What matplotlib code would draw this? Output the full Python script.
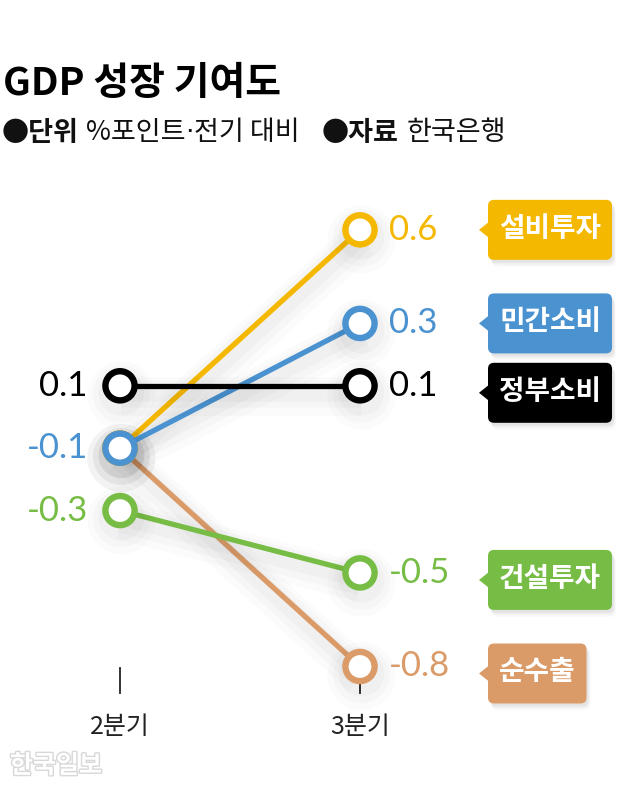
import matplotlib
matplotlib.use('Agg')
import matplotlib.pyplot as plt
import matplotlib.patheffects as pe
from matplotlib.patches import FancyBboxPatch, Polygon

# data
quarters = ['2분기', '3분기']
series = ['설비투자', '민간소비', '정부소비', '건설투자', '순수출']
q2 = [-0.1, -0.1, 0.1, -0.3, -0.1]
q3 = [0.6, 0.3, 0.1, -0.5, -0.8]
colors = ['#F5B800', '#4A92D0', '#000000', '#77BD45', '#DA9B68']
show_left = [False, True, True, True, False]
zorders = [3, 4, 6, 5, 2]
box_shift = [0, 0, 7, 7, 7]   # px, label box below the point

KR = ['Noto Sans CJK KR', 'DejaVu Sans']
NUM = ['Lato', 'DejaVu Sans']

W, H = 640, 790
fig = plt.figure(figsize=(W / 100, H / 100), dpi=100)
ax = fig.add_axes([0, 0, 1, 1])
ax.axis('off')
ax.set_xlim(-0.5, W / 240 - 0.5)
ax.set_ylim(-1.196, 1.337)

shadow = [pe.SimpleLineShadow(offset=(1, -5), shadow_color='k', alpha=0.025, linewidth=12),
          pe.SimpleLineShadow(offset=(1, -6), shadow_color='k', alpha=0.02, linewidth=20),
          pe.SimpleLineShadow(offset=(1, -7), shadow_color='k', alpha=0.015, linewidth=28),
          pe.Normal()]

xs = [0, 1]
for i, name in enumerate(series):
    ax.plot(xs, [q2[i], q3[i]], color=colors[i], lw=3.8, marker='o', ms=21,
            mfc='white', mec=colors[i], mew=4.6, zorder=zorders[i],
            solid_capstyle='butt', path_effects=shadow)

# tick marks and quarter labels
to_data = ax.transData.inverted()
for x, q in zip(xs, quarters):
    dx, _ = ax.transData.transform((x, 0))
    y1 = to_data.transform((dx, H - 668))[1]
    y2 = to_data.transform((dx, H - 693))[1]
    ax.plot([x, x], [y1, y2], color='#222222', lw=1.3, zorder=1)
    yl = to_data.transform((dx, H - 727))[1]
    ax.text(x, yl, q, ha='center', va='center', fontsize=18, family=KR, color='#222222')

# value labels
for i in range(len(series)):
    if show_left[i]:
        ax.annotate(f'{q2[i]:g}', (0, q2[i]), xytext=(-32, 0), textcoords='offset pixels',
                    ha='right', va='center', fontsize=25, family=NUM, color=colors[i])
    ax.annotate(f'{q3[i]:g}', (1, q3[i]), xytext=(29, 0), textcoords='offset pixels',
                ha='left', va='center', fontsize=25, family=NUM, color=colors[i])

# name boxes
fig.canvas.draw()
r = fig.canvas.get_renderer()
for i, name in enumerate(series):
    px, py = ax.transData.transform((1, q3[i]))
    left = px + 128
    cy = py - box_shift[i]
    t = ax.text(0, 0, name, fontsize=20, weight='bold', family=KR, color='white',
                ha='center', va='center', zorder=11)
    tw = t.get_window_extent(r).width
    bw, bh = tw + 22, 60
    for ox, oy, a in [(2, -3, 0.05), (3, -5, 0.035), (4, -7, 0.02)]:
        fig.patches.append(FancyBboxPatch((left + ox, cy - bh / 2 + oy), bw, bh,
                                          boxstyle='round,pad=0,rounding_size=6',
                                          fc='k', ec='none', alpha=a,
                                          transform=None, figure=fig))
    fig.patches.append(FancyBboxPatch((left, cy - bh / 2), bw, bh,
                                      boxstyle='round,pad=0,rounding_size=6',
                                      fc=colors[i], ec='none', transform=None, figure=fig))
    fig.patches.append(Polygon([(left - 9, cy), (left + 1, cy + 8), (left + 1, cy - 8)],
                               closed=True, fc=colors[i], ec='none',
                               transform=None, figure=fig))
    t.remove()
    fig.text((left + bw / 2) / W, (cy + 1) / H, name, fontsize=20, weight='bold',
             family=KR, color='white', ha='center', va='center', zorder=11)

# title and subtitle
fig.text(3 / W, 1 - 83 / H, 'GDP 성장 기여도', fontsize=28, weight='heavy',
         family=KR, va='center', ha='left')
parts = [('●단위', 'bold', KR, 0), ('%포인트', 'light', KR, 7), ('·', 'normal', ['DejaVu Sans'], 0),
         ('전기 대비', 'light', KR, 0), ('●자료', 'bold', KR, 22), ('한국은행', 'light', KR, 8)]
x = 2
for txt, wt, fam, gap in parts:
    x += gap
    t = fig.text(x / W, 1 - 133 / H, txt, fontsize=19.5, weight=wt, family=fam,
                 va='center', ha='left', color='#111111')
    x = t.get_window_extent(r).x1

# watermark
fig.text(10 / W, 1 - 766 / H, '한국일보', fontsize=18, weight='bold', family=KR,
         color='white', va='center', ha='left',
         path_effects=[pe.withStroke(linewidth=2, foreground='#d8d8d8')])

fig.savefig('out.png', dpi=100)
